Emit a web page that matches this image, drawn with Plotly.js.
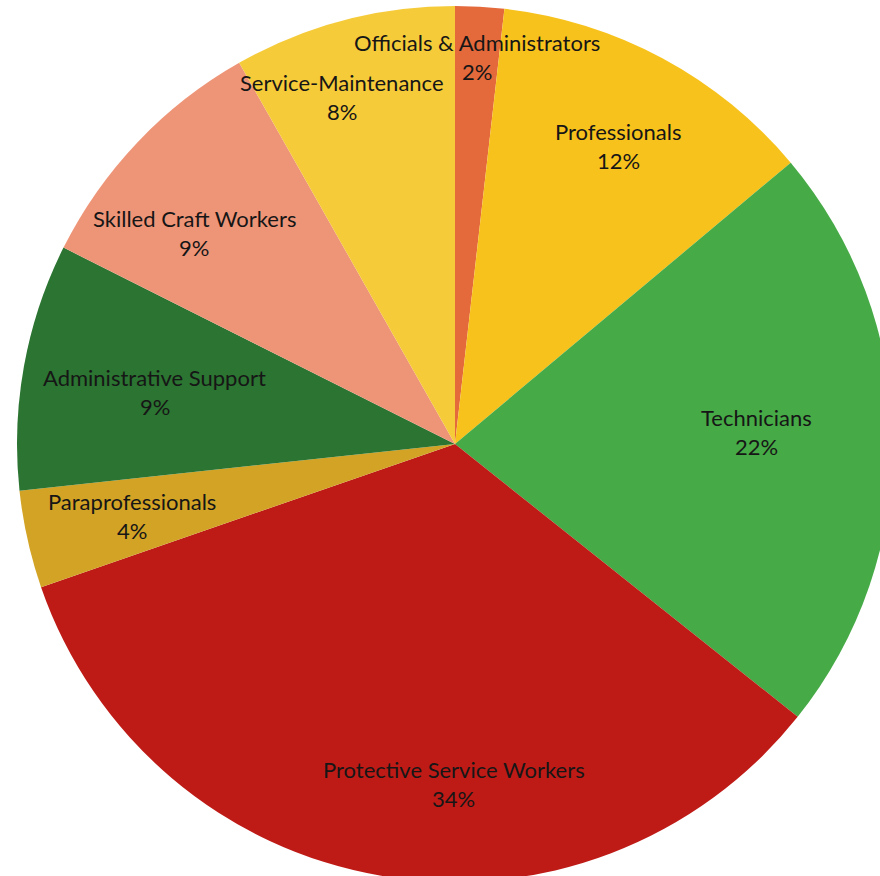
<!DOCTYPE html>
<html>
<head>
<meta charset="utf-8">
<script src="https://cdn.plot.ly/plotly-3.0.1.min.js"></script>
<style>
  html, body { margin: 0; padding: 0; width: 880px; height: 876px; overflow: hidden; background: #ffffff; }
  #chart { position: absolute; left: 0px; top: 6px; width: 910px; height: 876px; }
</style>
</head>
<body>
<div id="chart"></div>
<script>
// ---- data ----
const categories = [
  "Officials & Administrators",
  "Professionals",
  "Technicians",
  "Protective Service Workers",
  "Paraprofessionals",
  "Administrative Support",
  "Skilled Craft Workers",
  "Service-Maintenance"
];
// shares (labels show them rounded)
const shares = [1.8, 12.1, 21.8, 34.0, 3.6, 9.1, 9.4, 8.2];

// ---- styling (kept separate from data) ----
const sliceColors = ["#E4693B", "#F8C21C", "#46AA46", "#BE1B17", "#D3A325", "#2B7431", "#EE9578", "#F6CB3A"];
const labelRadius = [0.886, 0.776, 0.69, 0.776, 0.756, 0.696, 0.765, 0.833]; // fraction of pie radius
const labelTurn = [0, 0.5, -1.6, -9.5, 0, -0.5, -4.6, -3.2];                  // degrees

const W = 910, H = 876;
const R = Math.min(W, H) / 2, cx = W / 2, cy = H / 2;
const total = shares.reduce((a, b) => a + b, 0);

const annotations = [];
let cum = 0;
shares.forEach((v, i) => {
  const mid = (cum + v / 2) / total * 360 + labelTurn[i];
  cum += v;
  const th = mid * Math.PI / 180;
  const rr = labelRadius[i] * R;
  const px = cx + rr * Math.sin(th);
  const py = cy - rr * Math.cos(th);
  const common = {
    xref: "paper", yref: "paper",
    x: px / W, y: 1 - py / H,
    xanchor: "center", yanchor: "middle",
    showarrow: false,
    font: { family: "Lato, 'Open Sans', sans-serif", size: 22, color: "#161616" }
  };
  annotations.push(Object.assign({}, common, { text: categories[i], yshift: 14.5 }));
  annotations.push(Object.assign({}, common, { text: Math.round(v / total * 100) + "%", yshift: -14.5 }));
});

const trace = {
  type: "pie",
  labels: categories,
  values: shares,
  sort: false,
  direction: "clockwise",
  rotation: 0,
  textinfo: "none",
  hoverinfo: "label+percent",
  marker: { colors: sliceColors, line: { width: 0 } },
  domain: { x: [0, 1], y: [0, 1] }
};

Plotly.newPlot("chart", [trace], {
  width: W, height: H,
  margin: { l: 0, r: 0, t: 0, b: 0, pad: 0 },
  showlegend: false,
  paper_bgcolor: "rgba(0,0,0,0)",
  plot_bgcolor: "rgba(0,0,0,0)",
  annotations: annotations
}, { staticPlot: true, displayModeBar: false });
</script>
</body>
</html>
